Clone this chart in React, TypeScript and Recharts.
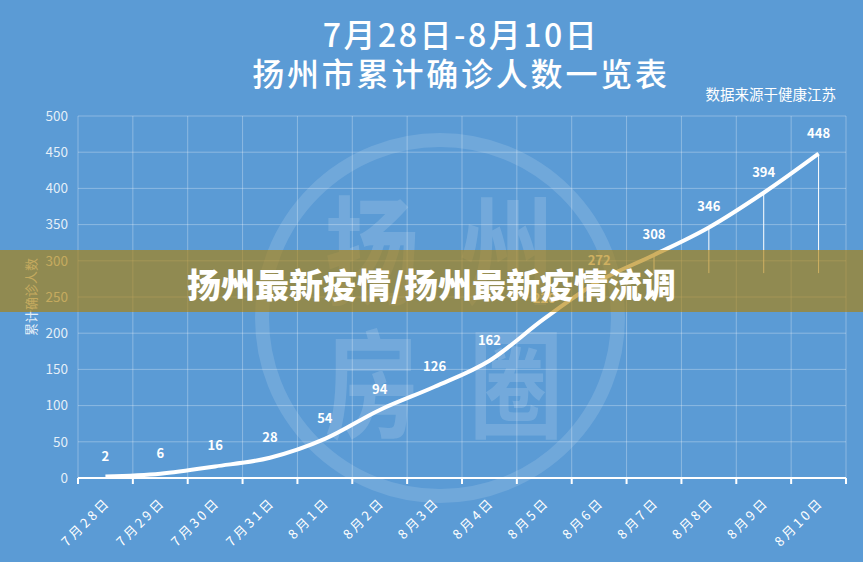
import React from 'react';
import { LineChart, Line, XAxis, YAxis, CartesianGrid, LabelList, ReferenceLine } from 'recharts';

const dates = ['7月28日', '7月29日', '7月30日', '7月31日', '8月1日', '8月2日', '8月3日', '8月4日', '8月5日', '8月6日', '8月7日', '8月8日', '8月9日', '8月10日'];
const cumulative = [2, 6, 16, 28, 54, 94, 126, 162, 220, 272, 308, 346, 394, 448];
const yTicks = [0, 50, 100, 150, 200, 250, 300, 350, 400, 450, 500];
const dropLineDates = ['8月7日', '8月8日', '8月9日', '8月10日'];
const dropLineBottom = 283;

const data = dates.map((d, i) => ({ date: d, value: cumulative[i] }));

const W = 863;
const H = 562;
const MARGIN = { top: 116, right: 17, bottom: 24, left: 18 };
const Y_AXIS_W = 60;
const X_AXIS_H = 60;
const PLOT_W = W - MARGIN.left - Y_AXIS_W - MARGIN.right;
const BAND = PLOT_W / dates.length;
const FONT = "'Noto Sans CJK SC', 'Noto Sans', sans-serif";

const XTick = (props: any) => {
  const { x, y, payload, index } = props;
  const left = x - BAND / 2;
  const right = x + BAND / 2;
  const ax = x + 6;
  const ay = y + 25;
  return (
    <g>
      <line x1={left} y1={y} x2={left} y2={y + 6} stroke="#fff" strokeWidth={2} />
      {index === dates.length - 1 && (
        <line x1={right} y1={y} x2={right} y2={y + 6} stroke="#fff" strokeWidth={2} />
      )}
      <text
        x={ax}
        y={ay}
        transform={`rotate(-45 ${ax} ${ay})`}
        textAnchor="end"
        fill="#ffffff"
        fontSize={13}
        letterSpacing={3}
        fontFamily={FONT}
      >
        {payload.value}
      </text>
    </g>
  );
};

const YLabel = (props: any) => {
  const vb = props.viewBox || {};
  const cy = vb.y + vb.height / 2;
  const cx = 30;
  return (
    <text
      x={cx}
      y={cy}
      transform={`rotate(-90 ${cx} ${cy})`}
      textAnchor="middle"
      dominantBaseline="central"
      fill="rgba(255,255,255,0.85)"
      fontSize={13}
      fontFamily={FONT}
    >
      累计确诊人数
    </text>
  );
};

export default function App() {
  return (
    <div
      style={{
        position: 'absolute',
        left: 0,
        top: 0,
        width: W,
        height: H,
        background: '#5b9bd5',
        overflow: 'hidden',
        fontFamily: FONT,
      }}
    >
      <svg width={W} height={H} style={{ position: 'absolute', left: 0, top: 0 }}>
        <circle cx={440} cy={318} r={178} fill="none" stroke="rgba(255,255,255,0.13)" strokeWidth={14} />
        {[
          ['扬', 372, 245],
          ['州', 507, 245],
          ['房', 372, 378],
          ['圈', 516, 378],
        ].map(([ch, x, y]) => (
          <text
            key={ch as string}
            transform={`translate(${x},${y}) scale(0.8,1)`}
            x={0}
            y={0}
            textAnchor="middle"
            dominantBaseline="central"
            fontSize={118}
            fontWeight={700}
            fontFamily={FONT}
            fill="rgba(255,255,255,0.15)"
          >
            {ch}
          </text>
        ))}
      </svg>

      <div
        style={{
          position: 'absolute',
          left: 161,
          top: 17,
          width: 600,
          textAlign: 'center',
          color: '#fff',
          fontSize: 32,
          lineHeight: '32px',
          letterSpacing: 2.5,
          fontWeight: 500,
        }}
      >
        7月28日-8月10日
      </div>
      <div
        style={{
          position: 'absolute',
          left: 161,
          top: 56,
          width: 600,
          textAlign: 'center',
          color: '#fff',
          fontSize: 32,
          lineHeight: '32px',
          letterSpacing: 2.8,
          fontWeight: 500,
        }}
      >
        扬州市累计确诊人数一览表
      </div>
      <div
        style={{
          position: 'absolute',
          right: 27,
          top: 86,
          color: '#fff',
          fontSize: 14.5,
          lineHeight: '15px',
          whiteSpace: 'nowrap',
        }}
      >
        数据来源于健康江苏
      </div>

      <div style={{ position: 'absolute', left: 0, top: 0 }}>
        <LineChart width={W} height={H} data={data} margin={MARGIN}>
          <CartesianGrid
            stroke="rgba(255,255,255,0.3)"
            strokeWidth={1}
            verticalCoordinatesGenerator={({ offset }: any) =>
              Array.from({ length: dates.length + 1 }, (_, i) => offset.left + (i * offset.width) / dates.length)
            }
          />
          <XAxis
            dataKey="date"
            interval={0}
            height={X_AXIS_H}
            padding={{ left: BAND / 2, right: BAND / 2 }}
            axisLine={{ stroke: '#fff', strokeWidth: 2 }}
            tickLine={false}
            tickSize={0}
            tickMargin={0}
            tick={<XTick />}
          />
          <YAxis
            width={Y_AXIS_W}
            domain={[0, 500]}
            ticks={yTicks}
            axisLine={false}
            tickLine={false}
            tickSize={0}
            tickMargin={10}
            tick={{ fill: 'rgba(255,255,255,0.85)', fontSize: 13.5, fontFamily: FONT }}
            label={<YLabel />}
          />
          {dropLineDates.map((d) => (
            <ReferenceLine
              key={d}
              segment={[
                { x: d, y: cumulative[dates.indexOf(d)] },
                { x: d, y: dropLineBottom },
              ]}
              stroke="#fff"
              strokeWidth={1}
            />
          ))}
          <Line
            type="monotone"
            dataKey="value"
            stroke="#fff"
            strokeWidth={4}
            dot={false}
            isAnimationActive={false}
          >
            <LabelList
              dataKey="value"
              position="top"
              offset={16}
              fill="#fff"
              fontSize={13}
              fontWeight={600}
              fontFamily={FONT}
            />
          </Line>
        </LineChart>
      </div>

      <div
        style={{
          position: 'absolute',
          left: 0,
          top: 250,
          width: W,
          height: 62,
          background: 'rgba(178,128,0,0.62)',
          display: 'flex',
          alignItems: 'center',
          justifyContent: 'center',
        }}
      >
        <span
          style={{
            color: '#fff',
            fontSize: 34,
            fontWeight: 900,
            lineHeight: '34px',
            transform: 'translateY(3px)',
          }}
        >
          扬州最新疫情/扬州最新疫情流调
        </span>
      </div>
    </div>
  );
}
